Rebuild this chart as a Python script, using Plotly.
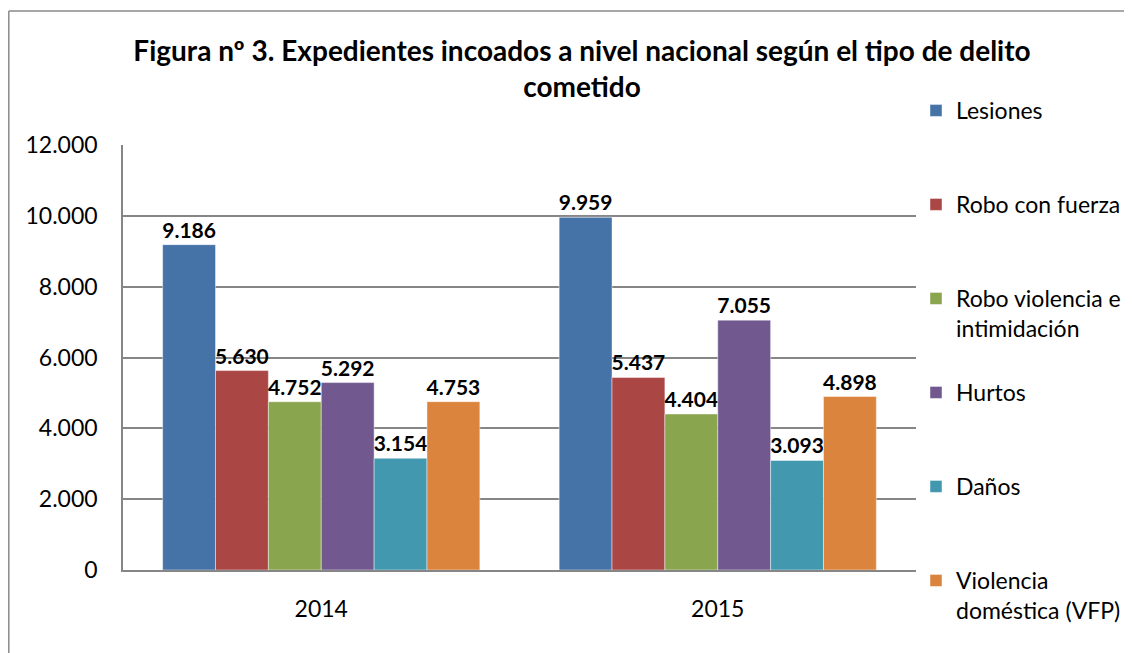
import plotly.graph_objects as go

years = ["2014", "2015"]
series_names = ["Lesiones", "Robo con fuerza", "Robo violencia e<br>intimidación",
                "Hurtos", "Daños", "Violencia<br>doméstica (VFP)"]
lesiones = [9186, 9959]
robo_fuerza = [5630, 5437]
robo_violencia = [4752, 4404]
hurtos = [5292, 7055]
danos = [3154, 3093]
violencia_domestica = [4753, 4898]
series_values = [lesiones, robo_fuerza, robo_violencia, hurtos, danos, violencia_domestica]
colors = ["#4572A7", "#AA4643", "#89A54E", "#71588F", "#4198AF", "#DB843D"]
y_ticks = [0, 2000, 4000, 6000, 8000, 10000, 12000]

FONT = "Lato"

fig = go.Figure()
for i, (name, vals, col) in enumerate(zip(series_names, series_values, colors)):
    legend_name = name if "<br>" in name else name + "<br>\u00a0"
    fig.add_trace(go.Bar(
        x=years, y=vals, name=legend_name, legendgroup=f"g{i}",
        marker=dict(color=col, line=dict(color="rgba(255,255,255,0.45)", width=1)),
        texttemplate="%{y:,}", textposition="outside", constraintext="none",
        cliponaxis=False,
        textfont=dict(family=FONT, size=21, color="black", weight="bold"),
        hoverinfo="skip",
    ))

# page body has an 8px margin; positions below are in figure pixels
W, H = 1132, 653
L, R, T, B = 115, 908, 137, 562

fig.update_layout(
    width=W, height=H,
    separators=",.",
    paper_bgcolor="white", plot_bgcolor="white",
    margin=dict(l=L, r=W - R, t=T, b=H - B, autoexpand=False),
    barmode="group", bargap=0.2, bargroupgap=0,
    font=dict(family=FONT, size=23, color="black"),
    title=dict(
        text="Figura nº 3. Expedientes incoados a nivel nacional según el tipo de delito<br>cometido",
        font=dict(family=FONT, size=28, color="black", weight="bold"),
        x=574 / W, xanchor="center", xref="container",
        y=1 - 53 / H, yanchor="top", yref="container",
    ),
    legend=dict(
        x=1.0, xanchor="left", y=(B - 81) / (B - T), yanchor="top",
        valign="top", tracegroupgap=31.2, maxheight=2000,
        font=dict(family=FONT, size=23, color="black"),
        bgcolor="rgba(0,0,0,0)", itemclick=False,
    ),
    xaxis=dict(
        type="category", showgrid=False, showline=True, linecolor="#868686",
        linewidth=1.5, ticks="", tickfont=dict(size=23), ticklabelstandoff=18,
    ),
    yaxis=dict(
        range=[0, 12000], tickvals=y_ticks, tickformat=",",
        showgrid=True, gridcolor="#868686", gridwidth=1.5,
        showline=True, linecolor="#868686", linewidth=1.5,
        ticks="", tickfont=dict(size=23), ticklabelstandoff=19, zeroline=False,
    ),
    shapes=[
        dict(type="line", xref="paper", yref="paper",
             x0=(0.8 - L) / (R - L), x1=(0.8 - L) / (R - L),
             y0=(B - 3) / (B - T), y1=(B - H - 5) / (B - T),
             line=dict(color="#8a8a8a", width=1.5)),
        dict(type="line", xref="paper", yref="paper",
             x0=(0.8 - L) / (R - L), x1=(W + 5 - L) / (R - L),
             y0=(B - 3) / (B - T), y1=(B - 3) / (B - T),
             line=dict(color="#8a8a8a", width=1.5)),
    ],
)

fig.write_html("out.html")
